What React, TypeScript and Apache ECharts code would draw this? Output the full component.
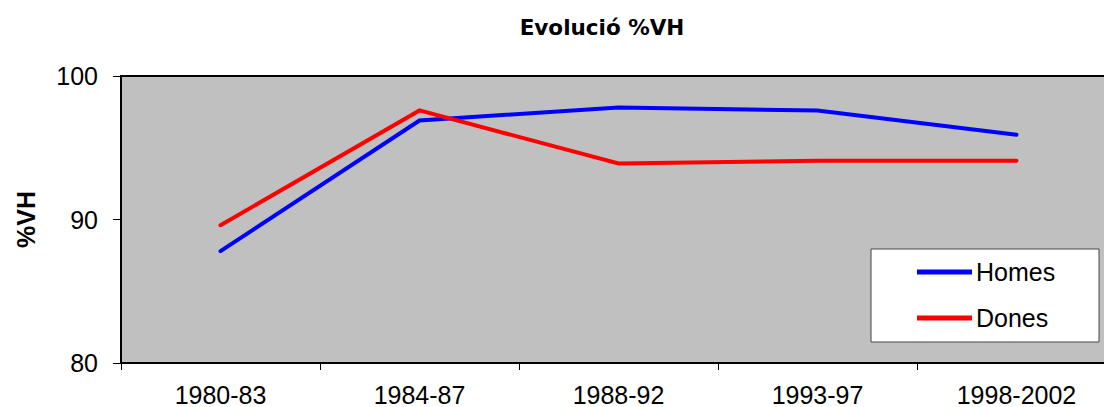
import React, { useEffect, useRef } from "react";
import * as echarts from "echarts";

const categories = ["1980-83", "1984-87", "1988-92", "1993-97", "1998-2002"];
const homes = [87.8, 96.9, 97.8, 97.6, 95.9];
const dones = [89.6, 97.6, 93.9, 94.1, 94.1];
const yTicks = { min: 80, max: 100, interval: 10 };

export default function App() {
  const ref = useRef<HTMLDivElement>(null);
  useEffect(() => {
    if (!ref.current) return;
    const chart = echarts.init(ref.current, undefined, { renderer: "svg" });
    const font = "Arial, 'Liberation Sans', sans-serif";
    chart.setOption({
      animation: false,
      grid: {
        left: 121,
        top: 76,
        width: 995,
        height: 288,
        show: true,
        backgroundColor: "#c0c0c0",
        borderColor: "#000",
        borderWidth: 2,
      },
      graphic: [
        {
          type: "text",
          x: 602,
          y: 27,
          style: {
            text: "Evolució %VH",
            fontFamily: "'DejaVu Sans', Verdana, sans-serif",
            fontWeight: "bold",
            fontSize: 21.5,
            fill: "#000",
            align: "center",
            verticalAlign: "middle",
          },
        },
        {
          type: "rect",
          z: 3,
          shape: { x: 871, y: 249, width: 228, height: 93 },
          style: { fill: "#fff", stroke: "#444", lineWidth: 1 },
        },
      ],
      legend: {
        orient: "vertical",
        left: 912,
        top: 254.5,
        z: 10,
        itemWidth: 55,
        itemHeight: 5,
        itemGap: 21,
        icon: "rect",
        textStyle: { fontSize: 25, fontFamily: font, color: "#000", padding: [0, 0, 0, -1] },
        data: ["Homes", "Dones"],
      },
      xAxis: {
        type: "category",
        data: categories,
        boundaryGap: true,
        axisLine: { lineStyle: { color: "#000", width: 2 } },
        axisTick: { show: true, length: 7, lineStyle: { color: "#000", width: 1 } },
        axisLabel: { fontSize: 25, fontFamily: font, color: "#000", margin: 19 },
        splitLine: { show: false },
      },
      yAxis: {
        type: "value",
        min: yTicks.min,
        max: yTicks.max,
        interval: yTicks.interval,
        name: "%VH",
        nameLocation: "middle",
        nameGap: 83,
        nameRotate: 90,
        nameTextStyle: { fontSize: 25, fontWeight: "bold", fontFamily: font, color: "#000" },
        axisLine: { show: true, lineStyle: { color: "#000", width: 2 } },
        axisTick: { show: true, length: 8, lineStyle: { color: "#000", width: 1 } },
        axisLabel: { fontSize: 25, fontFamily: font, color: "#000", margin: 23 },
        splitLine: { show: false },
      },
      series: [
        {
          name: "Homes",
          type: "line",
          data: homes,
          showSymbol: false,
          symbol: "none",
          color: "#0000ff",
          lineStyle: { color: "#0000ff", width: 4, cap: "round", join: "miter" },
        },
        {
          name: "Dones",
          type: "line",
          data: dones,
          showSymbol: false,
          symbol: "none",
          color: "#ff0000",
          lineStyle: { color: "#ff0000", width: 4, cap: "round", join: "miter" },
        },
      ],
    });
    return () => chart.dispose();
  }, []);
  return (
    <div style={{ position: "fixed", left: 0, top: 0, width: 1104, height: 407, overflow: "hidden", background: "#fff" }}>
      <div ref={ref} style={{ position: "absolute", left: 0, top: 0, width: 1140, height: 407 }} />
    </div>
  );
}
